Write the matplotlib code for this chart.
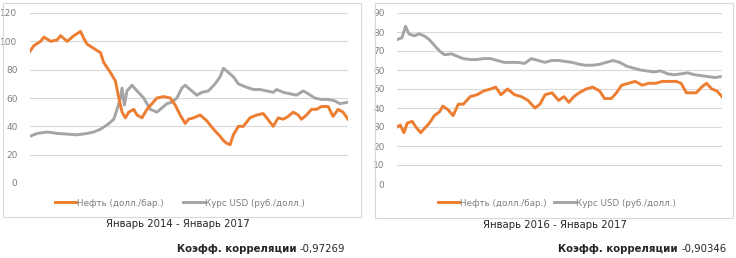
import matplotlib
matplotlib.use("Agg")
import matplotlib.pyplot as plt
from matplotlib.patches import Rectangle

plt.rcParams['font.family'] = ['DejaVu Sans']

# ---------- Data: Jan 2014 - Jan 2017 (x in months from Jan 2014) ----------
oil14_t = [0, 0.45, 1.2, 1.58, 2.33, 3.08, 3.46, 4.21, 4.97, 5.72, 6.09, 6.47, 7.22, 7.98,
           8.35, 9.1, 9.67, 10.05, 10.42, 10.8, 11.17, 11.74, 12.11, 12.68, 13.24, 13.81,
           14.37, 15.12, 15.88, 16.44, 17.0, 17.57, 17.95, 18.51, 19.26, 20.0, 20.77, 21.52,
           21.9, 22.27, 22.65, 23.02, 23.59, 24.15, 24.9, 25.66, 26.41, 26.79, 27.54, 28.1,
           28.67, 29.23, 29.8, 30.36, 30.74, 31.3, 31.87, 32.43, 32.99, 33.75, 34.31, 34.88,
           35.44, 36.0]
oil14_v = [93, 97, 100, 103, 100, 101, 104, 100, 104, 107, 102, 98, 95, 92,
           85, 78, 72, 60, 50, 46, 50, 52, 48, 46, 52, 56,
           60, 61, 60, 55, 48, 42, 45, 46, 48, 44, 38, 33,
           30, 28, 27, 34, 40, 40, 46, 48, 49, 46, 40, 46,
           45, 47, 50, 48, 45, 48, 52, 52, 54, 54, 47, 52,
           50, 45]

usd14_t = [0, 0.83, 1.96, 3.08, 4.21, 5.34, 6.47, 7.22, 7.98, 8.73, 9.48, 9.86, 10.23,
           10.42, 10.68, 10.98, 11.55, 12.11, 12.87, 13.62, 14.37, 14.93, 15.5, 16.06,
           16.63, 17.19, 17.57, 18.13, 18.88, 19.45, 20.2, 20.96, 21.52, 21.9, 22.46,
           23.02, 23.59, 24.34, 25.28, 26.03, 26.79, 27.54, 27.92, 28.67, 29.42, 30.17,
           30.93, 31.49, 32.24, 32.99, 33.75, 34.5, 35.06, 36.0]
usd14_v = [33, 35, 36, 35, 34.5, 34, 35, 36, 38, 41, 45, 52, 60,
           67, 55, 65, 69, 65, 60, 52, 50, 53, 56, 57,
           60, 67, 69, 66, 62, 64, 65, 70, 75, 81, 78,
           75, 70, 68, 66, 66, 65, 64, 66, 64, 63, 62,
           65, 63, 60, 59, 59, 58, 56, 57]

# ---------- Data: Jan 2016 - Jan 2017 (x in months from Jan 2016) ----------
oil16_t = [0, 0.12, 0.25, 0.37, 0.55, 0.68, 0.86, 0.98, 1.17, 1.35, 1.54, 1.66, 1.85,
           2.03, 2.22, 2.4, 2.65, 2.9, 3.14, 3.39, 3.57, 3.76, 4.0, 4.25, 4.5, 4.74,
           4.99, 5.17, 5.36, 5.61, 5.85, 6.04, 6.22, 6.4, 6.59, 6.84, 7.08, 7.33, 7.51,
           7.76, 7.94, 8.13, 8.37, 8.62, 8.87, 9.11, 9.36, 9.6, 9.85, 10.1, 10.28, 10.47,
           10.65, 10.83, 11.02, 11.2, 11.39, 11.57, 11.76]
oil16_v = [30, 31, 27, 32, 33, 30, 27, 29, 32, 36, 38, 41, 39,
           36, 42, 42, 46, 47, 49, 50, 51, 47, 50, 47, 46, 44,
           40, 42, 47, 48, 44, 46, 43, 46, 48, 50, 51, 49, 45,
           45, 48, 52, 53, 54, 52, 53, 53, 54, 54, 54, 53, 48,
           48, 48, 51, 53, 50, 49, 46]

usd16_t = [0, 0.18, 0.31, 0.43, 0.62, 0.8, 0.98, 1.17, 1.35, 1.54, 1.72, 1.97, 2.22,
           2.4, 2.65, 2.9, 3.14, 3.39, 3.63, 3.88, 4.12, 4.37, 4.62, 4.86, 5.11, 5.35,
           5.6, 5.85, 6.09, 6.34, 6.59, 6.83, 7.08, 7.33, 7.57, 7.82, 8.06, 8.31, 8.56,
           8.8, 9.05, 9.29, 9.54, 9.79, 10.03, 10.28, 10.52, 10.77, 11.02, 11.26, 11.51,
           11.7]
usd16_v = [76, 77, 83, 79, 78, 79, 78, 76, 73, 70, 68, 68.5, 67,
           66, 65.5, 65.5, 66, 66, 65, 64, 64, 64, 63.5, 66, 65, 64,
           65, 65, 64.5, 64, 63, 62.5, 62.5, 63, 64, 65, 64, 62, 61,
           60, 59.5, 59, 59.5, 58, 57.5, 58, 58.5, 57.5, 57, 56.5, 56,
           56.5]

series_labels = ["Нефть (долл./бар.)", "Курс USD (руб./долл.)"]
period_labels = ["Январь 2014 - Январь 2017", "Январь 2016 - Январь 2017"]
corr_label = "Коэфф. корреляции"
corr_values = ["-0,97269", "-0,90346"]
yticks14 = [0, 20, 40, 60, 80, 100, 120]
yticks16 = [0, 10, 20, 30, 40, 50, 60, 70, 80, 90]

ORANGE = "#ED7D31"
GREY = "#A5A5A5"

W, H = 736, 258
fig = plt.figure(figsize=(W / 100, H / 100), dpi=100)
fig.patch.set_facecolor("white")

def fx(px):
    return px / W

def fy(py):
    return 1 - py / H

# panel boxes
for (x0, y0, x1, y1) in [(3, 3, 361, 217), (375, 3, 733, 218)]:
    fig.patches.append(Rectangle((fx(x0), fy(y1)), fx(x1 - x0), (y1 - y0) / H,
                                 transform=fig.transFigure, fill=False,
                                 edgecolor="#d9d9d9", linewidth=0.8))

def make_panel(ax_rect, t1, v1, t2, v2, yticks, xmax):
    ax = fig.add_axes(ax_rect)
    ax.plot(t2, v2, color=GREY, lw=2.1, label=series_labels[1], zorder=2)
    ax.plot(t1, v1, color=ORANGE, lw=2.1, label=series_labels[0], zorder=3)
    ax.set_ylim(yticks[0], yticks[-1])
    ax.set_xlim(0, xmax)
    ax.set_yticks(yticks)
    ax.yaxis.grid(True, color="#d9d9d9", lw=0.8)
    ax.set_axisbelow(True)
    ax.set_xticks([])
    for s in ax.spines.values():
        s.set_visible(False)
    ax.tick_params(axis="y", length=0, labelsize=6.5, labelcolor="#7f7f7f", pad=9)
    return ax

ax1 = make_panel([fx(30), fy(183), fx(318), (183 - 13) / H],
                 oil14_t, oil14_v, usd14_t, usd14_v, yticks14, 36.0)
ax2 = make_panel([fx(397), fy(184), fx(325), (184 - 13) / H],
                 oil16_t, oil16_v, usd16_t, usd16_v, yticks16, 11.76)

for ax, cx, cs in [(ax1, 180, 2.2), (ax2, 557, 0.8)]:
    h, l = ax.get_legend_handles_labels()
    fig.legend([h[1], h[0]], [l[1], l[0]], loc="center",
               bbox_to_anchor=(fx(cx), fy(203)), ncol=2, frameon=False,
               fontsize=6.3, labelcolor="#7f7f7f", handlelength=2.4,
               handletextpad=0.1, columnspacing=cs)

fig.text(fx(178), fy(224), period_labels[0], ha="center", va="center",
         fontsize=7.3, color="#262626")
fig.text(fx(555), fy(225), period_labels[1], ha="center", va="center",
         fontsize=7.3, color="#262626")

fig.text(fx(297), fy(249), corr_label, ha="right", va="center",
         fontsize=7.3, fontweight="bold", color="#262626")
fig.text(fx(345), fy(249), corr_values[0], ha="right", va="center",
         fontsize=7.3, color="#262626")
fig.text(fx(678), fy(249), corr_label, ha="right", va="center",
         fontsize=7.3, fontweight="bold", color="#262626")
fig.text(fx(727), fy(249), corr_values[1], ha="right", va="center",
         fontsize=7.3, color="#262626")

fig.savefig("out.png", dpi=100)
